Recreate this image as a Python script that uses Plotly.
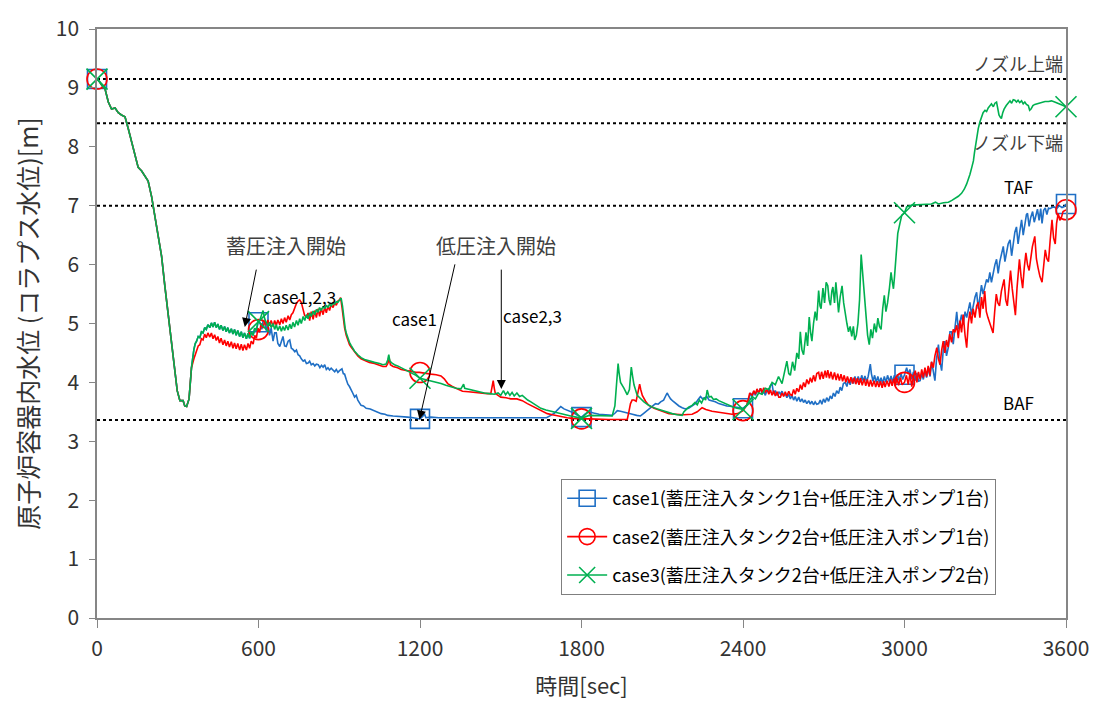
import numpy as np
import plotly.graph_objects as go

# ---------------- data ----------------
# common part (all cases identical)
t_common = [0, 10, 20, 30, 42, 54, 67, 79, 91, 104, 116, 129, 141, 153, 166, 178, 190, 203, 215, 227,
            240, 252, 264, 277, 289, 298, 308, 320, 326, 333, 342, 351]
v_common = [9.15, 9.10, 9.03, 8.98, 8.76, 8.64, 8.66, 8.58, 8.54, 8.51, 8.31, 8.09, 7.84, 7.65, 7.59, 7.51,
            7.42, 7.15, 6.81, 6.48, 6.14, 5.64, 5.20, 4.70, 4.20, 3.86, 3.69, 3.69, 3.60, 3.59, 3.72, 4.25]

# case1 & case3 before accumulator injection (identical)
t_pre13 = [360, 365, 370, 376, 382, 388, 394, 400, 406, 412, 419, 425, 431, 437, 443, 449, 455, 461, 468, 474,
           480, 486, 492, 499, 505, 511, 517, 523, 530, 536, 542, 548, 555, 561, 567, 573, 580, 586, 592, 598]
v_pre13 = [4.56, 4.66, 4.70, 4.78, 4.76, 4.86, 4.84, 4.93, 4.90, 4.98, 4.93, 5.01, 4.94, 5.02, 4.93, 4.99,
           4.90, 4.97, 4.88, 4.95, 4.86, 4.93, 4.84, 4.91, 4.82, 4.90, 4.80, 4.88, 4.78, 4.86, 4.76, 4.84,
           4.74, 4.83, 4.75, 4.86, 4.80, 4.92, 4.88, 5.02]

t_case1 = [605, 612, 617, 623, 629, 635, 641, 647, 654, 660, 666, 672, 679, 685, 691, 697, 703, 710, 716, 722,
           728, 735, 741, 747, 753, 759, 766, 772, 778, 784, 790, 796, 803, 809, 815, 822, 828, 834, 840, 846,
           852, 858, 864, 870, 877, 883, 889, 895, 901, 910, 915, 920, 926, 932, 938, 944, 950, 957, 963, 969,
           975, 981, 990, 1000, 1015, 1031, 1045, 1056, 1070, 1080, 1100, 1117, 1135, 1154, 1175, 1191, 1200,
           1210, 1216, 1222, 1240, 1270, 1300, 1330, 1360, 1400, 1440, 1480, 1520, 1560, 1600, 1640, 1670,
           1686, 1700, 1710, 1723, 1735, 1748, 1760, 1772, 1785, 1800, 1815, 1828, 1845, 1865, 1890, 1914,
           1925, 1933, 1945, 1952, 1970, 1989, 2005, 2019, 2030, 2038, 2047, 2057, 2066, 2075, 2085, 2094,
           2105, 2112, 2118, 2124, 2131, 2140, 2149, 2162, 2174, 2186, 2198, 2210, 2223, 2232, 2242, 2250,
           2258, 2266, 2274, 2285, 2297, 2310, 2322, 2340, 2359, 2380, 2400, 2415, 2428, 2434, 2440, 2446,
           2452, 2458, 2465, 2471, 2477, 2483, 2490, 2496, 2502, 2508, 2514, 2520, 2527, 2533, 2539, 2545,
           2551, 2557, 2563, 2570, 2576, 2582, 2588, 2594, 2600, 2607, 2613, 2619, 2625, 2631, 2637, 2644,
           2650, 2656, 2662, 2668, 2674, 2681, 2687, 2693, 2699, 2705, 2711, 2718, 2724, 2730, 2736, 2742,
           2748, 2755, 2761, 2767, 2773, 2780, 2786, 2792, 2798, 2804, 2810, 2816, 2822, 2828, 2835, 2841,
           2847, 2853, 2859, 2865, 2870, 2873, 2877, 2883, 2889, 2895, 2901, 2907, 2913, 2919, 2925, 2931,
           2937, 2944, 2950, 2956, 2962, 2968, 2974, 2980, 2987, 2993, 3000, 3008, 3014, 3020, 3027, 3033,
           3040, 3046, 3052, 3058, 3064, 3070, 3076, 3082, 3090, 3095, 3101, 3107, 3113, 3119, 3126, 3132,
           3138, 3144, 3150, 3156, 3163, 3169, 3175, 3181, 3187, 3194, 3200, 3206, 3212, 3218, 3225, 3231,
           3237, 3243, 3249, 3255, 3262, 3268, 3274, 3280, 3286, 3292, 3298, 3305, 3311, 3317, 3323, 3329,
           3336, 3342, 3348, 3354, 3360, 3367, 3373, 3379, 3385, 3392, 3398, 3404, 3410, 3416, 3422, 3428,
           3435, 3441, 3447, 3453, 3457, 3463, 3469, 3476, 3482, 3488, 3494, 3500, 3506, 3511, 3517, 3523,
           3529, 3535, 3540, 3548, 3556, 3565, 3575, 3585, 3595, 3600]
v_case1 = [5.02, 4.90, 5.05, 5.03, 4.88, 5.00, 4.80, 4.92, 4.70, 4.84, 4.84, 4.66, 4.61, 4.72, 4.78, 4.62,
           4.61, 4.70, 4.72, 4.58, 4.56, 4.52, 4.55, 4.47, 4.45, 4.40, 4.36, 4.38, 4.32, 4.33, 4.36, 4.30,
           4.32, 4.28, 4.31, 4.30, 4.25, 4.29, 4.26, 4.30, 4.22, 4.25, 4.21, 4.24, 4.20, 4.18, 4.22, 4.17,
           4.20, 4.23, 4.15, 4.14, 4.05, 3.97, 3.93, 3.86, 3.82, 3.75, 3.78, 3.70, 3.66, 3.61, 3.60, 3.56,
           3.55, 3.52, 3.50, 3.47, 3.46, 3.44, 3.43, 3.42, 3.41, 3.41, 3.40, 3.39, 3.38, 3.42, 3.47, 3.40,
           3.41, 3.40, 3.40, 3.39, 3.40, 3.40, 3.39, 3.40, 3.39, 3.40, 3.39, 3.39, 3.40, 3.44, 3.48, 3.53,
           3.59, 3.55, 3.53, 3.51, 3.48, 3.44, 3.41, 3.47, 3.50, 3.48, 3.46, 3.45, 3.44, 3.48, 3.52, 3.51,
           3.50, 3.48, 3.46, 3.44, 3.43, 3.47, 3.50, 3.53, 3.56, 3.60, 3.64, 3.63, 3.67, 3.70, 3.76, 3.82,
           3.77, 3.72, 3.68, 3.64, 3.60, 3.57, 3.55, 3.56, 3.60, 3.64, 3.70, 3.76, 3.72, 3.74, 3.76, 3.70,
           3.69, 3.67, 3.64, 3.62, 3.60, 3.59, 3.57, 3.56, 3.62, 3.82, 3.75, 3.85, 3.78, 3.86, 3.83, 3.90,
           3.80, 3.85, 3.78, 3.88, 3.82, 3.95, 3.97, 3.80, 3.86, 3.78, 3.84, 3.80, 3.85, 3.78, 3.81, 3.74,
           3.80, 3.72, 3.78, 3.70, 3.76, 3.68, 3.75, 3.67, 3.72, 3.66, 3.70, 3.64, 3.69, 3.63, 3.68, 3.62,
           3.67, 3.63, 3.64, 3.70, 3.63, 3.72, 3.66, 3.74, 3.68, 3.77, 3.72, 3.82, 3.76, 3.86, 3.81, 3.92,
           3.86, 3.98, 4.00, 3.93, 4.05, 3.96, 4.08, 3.98, 4.10, 3.99, 4.10, 4.00, 4.12, 4.02, 4.11, 4.01,
           4.10, 4.20, 4.31, 4.15, 4.02, 4.12, 4.00, 4.10, 3.99, 4.08, 3.98, 4.10, 4.00, 4.12, 4.01, 4.11,
           4.00, 4.12, 4.02, 4.14, 4.03, 4.15, 4.05, 4.13, 4.25, 4.14, 4.22, 4.05, 4.18, 4.03, 4.16, 4.02,
           4.03, 4.15, 4.05, 4.22, 4.08, 4.25, 4.10, 4.35, 4.15, 4.03, 4.40, 4.64, 4.35, 4.20, 4.55, 4.70,
           4.45, 4.60, 4.86, 4.86, 4.65, 4.95, 5.20, 4.90, 5.05, 5.15, 4.98, 5.20, 5.10, 5.25, 5.36, 5.15,
           5.30, 5.45, 5.53, 5.25, 5.45, 5.65, 5.50, 5.60, 5.75, 5.70, 5.87, 5.70, 5.85, 6.00, 6.09, 5.85,
           6.05, 6.20, 6.31, 6.05, 6.20, 6.35, 6.42, 6.15, 6.35, 6.55, 6.64, 6.35, 6.55, 6.76, 6.50, 6.70,
           6.85, 6.87, 6.65, 6.80, 6.90, 6.72, 6.85, 6.94, 6.75, 6.95, 6.70, 6.92, 6.96, 6.85, 6.96, 6.95,
           6.97, 6.98, 6.95, 7.00, 6.97, 6.99, 7.03]

t_case2 = [360, 365, 370, 376, 382, 388, 394, 400, 406, 412, 419, 425, 431, 437, 443, 449, 455, 461, 468, 474,
           480, 486, 492, 499, 505, 511, 517, 523, 530, 536, 542, 548, 555, 561, 567, 573, 580, 586, 592, 598,
           604, 610, 617, 623, 629, 635, 641, 647, 654, 660, 666, 672, 679, 685, 691, 697, 703, 710, 716, 722,
           728, 734, 741, 747, 753, 759, 766, 771, 778, 784, 790, 796, 803, 809, 815, 821, 827, 833, 840, 846,
           852, 858, 864, 870, 877, 883, 889, 895, 901, 905, 910, 915, 920, 926, 932, 938, 944, 957, 969, 981,
           994, 1012, 1031, 1050, 1062, 1074, 1080, 1086, 1090, 1100, 1117, 1130, 1148, 1167, 1185, 1198,
           1220, 1241, 1260, 1278, 1290, 1303, 1320, 1340, 1358, 1380, 1400, 1426, 1450, 1463, 1468, 1472,
           1476, 1480, 1490, 1500, 1520, 1537, 1560, 1580, 1599, 1618, 1636, 1655, 1673, 1692, 1710, 1728,
           1747, 1765, 1785, 1800, 1828, 1860, 1900, 1940, 1970, 1976, 1982, 1988, 1995, 2003, 2010, 2016,
           2020, 2026, 2038, 2050, 2070, 2088, 2106, 2125, 2150, 2180, 2211, 2230, 2248, 2262, 2285, 2310,
           2335, 2359, 2380, 2400, 2415, 2425, 2434, 2440, 2446, 2452, 2458, 2465, 2471, 2477, 2483, 2490,
           2496, 2502, 2508, 2514, 2520, 2527, 2533, 2539, 2545, 2551, 2557, 2563, 2570, 2576, 2582, 2588,
           2594, 2600, 2607, 2613, 2619, 2625, 2631, 2637, 2644, 2650, 2656, 2662, 2668, 2674, 2681, 2686,
           2692, 2698, 2705, 2710, 2715, 2721, 2727, 2733, 2740, 2746, 2752, 2758, 2764, 2770, 2776, 2782,
           2788, 2795, 2801, 2807, 2813, 2819, 2825, 2831, 2837, 2843, 2850, 2856, 2862, 2868, 2874, 2880,
           2887, 2893, 2899, 2905, 2911, 2917, 2923, 2928, 2935, 2942, 2948, 2954, 2960, 2966, 2972, 2978,
           2985, 2991, 3000, 3007, 3014, 3020, 3027, 3033, 3040, 3046, 3052, 3058, 3064, 3070, 3076, 3082,
           3088, 3094, 3100, 3107, 3113, 3120, 3126, 3132, 3138, 3144, 3150, 3156, 3162, 3168, 3175, 3181,
           3187, 3194, 3200, 3206, 3212, 3218, 3225, 3231, 3237, 3243, 3249, 3255, 3262, 3268, 3274, 3280,
           3286, 3292, 3298, 3304, 3310, 3317, 3323, 3329, 3335, 3341, 3347, 3353, 3360, 3365, 3370, 3376,
           3382, 3388, 3394, 3400, 3406, 3412, 3418, 3422, 3427, 3433, 3439, 3445, 3451, 3457, 3463, 3469,
           3475, 3484, 3490, 3496, 3503, 3511, 3517, 3523, 3529, 3535, 3541, 3548, 3554, 3560, 3565, 3571,
           3577, 3583, 3589, 3595, 3600]
v_case2 = [4.40, 4.46, 4.54, 4.62, 4.64, 4.74, 4.72, 4.82, 4.76, 4.84, 4.77, 4.84, 4.74, 4.81, 4.71, 4.78,
           4.67, 4.75, 4.64, 4.72, 4.62, 4.70, 4.60, 4.69, 4.58, 4.67, 4.57, 4.66, 4.55, 4.65, 4.54, 4.64,
           4.55, 4.66, 4.58, 4.70, 4.65, 4.80, 4.75, 4.92, 4.85, 5.00, 4.92, 5.05, 4.97, 5.06, 4.96, 5.05,
           4.95, 5.05, 4.97, 5.06, 4.98, 5.08, 5.00, 5.10, 5.02, 5.13, 5.06, 5.15, 5.18, 5.26, 5.34, 5.38,
           5.40, 5.36, 5.25, 5.14, 5.10, 5.18, 5.05, 5.20, 5.07, 5.22, 5.10, 5.25, 5.12, 5.26, 5.15, 5.28,
           5.18, 5.30, 5.22, 5.32, 5.27, 5.35, 5.31, 5.38, 5.40, 5.44, 5.28, 5.05, 4.92, 4.80, 4.70, 4.64,
           4.60, 4.51, 4.45, 4.40, 4.37, 4.34, 4.32, 4.29, 4.27, 4.27, 4.32, 4.40, 4.30, 4.27, 4.25, 4.22,
           4.20, 4.18, 4.17, 4.17, 4.15, 4.14, 4.13, 4.11, 4.06, 3.98, 3.93, 3.89, 3.85, 3.84, 3.83, 3.81,
           3.81, 3.81, 3.95, 4.03, 3.90, 3.81, 3.78, 3.75, 3.74, 3.72, 3.72, 3.69, 3.64, 3.60, 3.56, 3.51,
           3.47, 3.45, 3.43, 3.41, 3.40, 3.39, 3.38, 3.38, 3.38, 3.37, 3.37, 3.37, 3.37, 3.50, 3.64, 3.70,
           3.70, 3.68, 3.85, 3.97, 3.88, 3.78, 3.68, 3.61, 3.56, 3.53, 3.50, 3.47, 3.46, 3.45, 3.46, 3.50,
           3.57, 3.54, 3.51, 3.49, 3.47, 3.46, 3.47, 3.52, 3.62, 3.82, 3.78, 3.86, 3.80, 3.89, 3.82, 3.90,
           3.83, 3.91, 3.84, 3.88, 3.80, 3.87, 3.78, 3.86, 3.77, 3.84, 3.75, 3.75, 3.82, 3.76, 3.84, 3.77,
           3.85, 3.79, 3.78, 3.88, 3.80, 3.90, 3.84, 3.96, 3.88, 4.00, 3.92, 4.05, 3.97, 4.08, 4.00, 4.12,
           4.02, 4.15, 4.17, 4.05, 4.18, 4.06, 4.20, 4.08, 4.21, 4.07, 4.18, 4.05, 4.17, 4.04, 4.15, 4.03,
           4.14, 4.02, 4.12, 4.00, 4.10, 3.99, 4.09, 3.98, 4.08, 3.97, 4.07, 3.96, 4.07, 3.95, 4.06, 3.94,
           4.05, 3.93, 4.04, 3.93, 4.03, 3.92, 4.02, 3.92, 4.02, 3.91, 4.02, 3.92, 4.03, 3.93, 4.05, 3.94,
           4.06, 3.94, 4.07, 3.95, 4.08, 3.96, 4.00, 4.12, 3.96, 4.15, 3.93, 4.10, 4.20, 4.00, 4.18, 4.05,
           4.22, 4.08, 4.25, 4.10, 4.28, 4.12, 4.35, 4.25, 4.45, 4.59, 4.40, 4.30, 4.55, 4.70, 4.50, 4.72,
           4.60, 4.82, 4.68, 4.90, 4.85, 4.97, 4.75, 5.05, 4.85, 5.15, 4.80, 4.59, 5.00, 5.20, 5.00, 5.25,
           5.10, 5.30, 5.36, 5.10, 5.45, 5.25, 5.55, 5.20, 5.10, 5.00, 4.90, 4.84, 5.20, 5.50, 5.35, 5.30,
           5.55, 5.65, 5.75, 5.40, 5.30, 5.60, 5.90, 5.60, 5.40, 5.14, 5.60, 5.85, 6.09, 5.80, 5.60, 5.95,
           6.20, 6.00, 5.90, 6.10, 6.30, 6.48, 6.10, 5.95, 5.80, 5.70, 6.00, 6.25, 6.10, 6.05, 6.40, 6.76,
           6.45, 6.35, 6.70, 6.87, 6.75, 6.80, 6.90, 6.92, 6.93]

t_case3 = [605, 612, 617, 623, 629, 635, 641, 647, 654, 660, 666, 672, 679, 685, 691, 697, 703, 710, 716, 722,
           728, 734, 741, 747, 753, 759, 766, 772, 778, 784, 790, 796, 803, 809, 815, 821, 827, 833, 840, 846,
           852, 858, 864, 870, 877, 883, 889, 895, 901, 907, 912, 917, 922, 926, 932, 938, 944, 957, 969, 981,
           994, 1012, 1031, 1050, 1062, 1074, 1080, 1084, 1088, 1095, 1105, 1117, 1130, 1148, 1167, 1185, 1200,
           1220, 1241, 1260, 1278, 1296, 1315, 1334, 1352, 1358, 1362, 1366, 1383, 1401, 1420, 1439, 1458,
           1476, 1490, 1500, 1510, 1518, 1526, 1534, 1542, 1550, 1560, 1570, 1580, 1587, 1600, 1612, 1630,
           1649, 1668, 1686, 1705, 1723, 1742, 1760, 1780, 1800, 1828, 1865, 1900, 1914, 1924, 1932, 1936,
           1940, 1945, 1958, 1970, 1978, 1985, 1990, 1995, 2007, 2020, 2032, 2047, 2063, 2082, 2100, 2118,
           2137, 2155, 2174, 2180, 2186, 2198, 2211, 2222, 2230, 2238, 2246, 2255, 2261, 2267, 2274, 2282,
           2290, 2300, 2310, 2328, 2347, 2365, 2378, 2400, 2415, 2434, 2446, 2458, 2471, 2483, 2495, 2508,
           2520, 2532, 2545, 2557, 2563, 2570, 2576, 2584, 2592, 2600, 2607, 2613, 2619, 2625, 2634, 2640,
           2646, 2651, 2656, 2662, 2668, 2674, 2681, 2686, 2690, 2697, 2703, 2709, 2715, 2720, 2725, 2730,
           2734, 2740, 2745, 2750, 2755, 2761, 2768, 2774, 2780, 2786, 2792, 2798, 2804, 2810, 2815, 2821,
           2827, 2833, 2839, 2845, 2851, 2857, 2863, 2869, 2875, 2881, 2888, 2895, 2901, 2907, 2913, 2919,
           2925, 2931, 2937, 2944, 2950, 2955, 2959, 2963, 2967, 2971, 2975, 2983, 2990, 3000, 3008, 3027,
           3050, 3076, 3100, 3115, 3126, 3145, 3163, 3176, 3188, 3200, 3212, 3222, 3231, 3238, 3243, 3250,
           3256, 3260, 3264, 3269, 3274, 3280, 3286, 3292, 3299, 3305, 3311, 3317, 3323, 3330, 3336, 3342,
           3347, 3351, 3356, 3360, 3365, 3370, 3378, 3385, 3392, 3398, 3404, 3410, 3416, 3422, 3428, 3435,
           3441, 3447, 3453, 3460, 3465, 3470, 3477, 3484, 3497, 3510, 3522, 3535, 3546, 3558, 3571, 3585,
           3600]
v_case3 = [5.06, 5.18, 5.22, 5.08, 5.02, 4.95, 5.02, 4.93, 5.00, 4.90, 4.98, 4.88, 4.96, 4.87, 4.95, 4.88,
           4.97, 4.89, 4.99, 4.91, 5.02, 4.94, 5.05, 4.97, 5.08, 5.00, 5.12, 5.05, 5.15, 5.08, 5.18, 5.12,
           5.21, 5.15, 5.24, 5.19, 5.27, 5.22, 5.29, 5.25, 5.31, 5.27, 5.33, 5.30, 5.35, 5.33, 5.37, 5.36,
           5.40, 5.43, 5.30, 5.09, 4.92, 4.84, 4.74, 4.68, 4.63, 4.53, 4.47, 4.42, 4.39, 4.36, 4.34, 4.32,
           4.30, 4.31, 4.38, 4.47, 4.36, 4.33, 4.30, 4.28, 4.25, 4.21, 4.17, 4.12, 4.07, 4.05, 4.02, 4.00,
           3.98, 3.95, 3.92, 3.90, 3.89, 3.93, 3.97, 3.90, 3.88, 3.86, 3.84, 3.82, 3.81, 3.80, 3.82, 3.78,
           3.86, 3.79, 3.84, 3.78, 3.83, 3.77, 3.82, 3.76, 3.78, 3.75, 3.70, 3.67, 3.61, 3.56, 3.53, 3.51,
           3.48, 3.46, 3.44, 3.43, 3.41, 3.39, 3.44, 3.44, 3.43, 3.43, 3.60, 4.15, 4.32, 4.15, 4.00, 3.90,
           3.79, 3.88, 4.26, 4.10, 3.96, 3.78, 3.72, 3.67, 3.62, 3.58, 3.55, 3.52, 3.49, 3.47, 3.45, 3.44,
           3.50, 3.53, 3.58, 3.61, 3.66, 3.62, 3.70, 3.65, 3.74, 3.70, 3.87, 3.75, 3.76, 3.71, 3.72, 3.69,
           3.65, 3.62, 3.58, 3.56, 3.54, 3.62, 3.76, 3.72, 3.82, 3.80, 3.90, 3.88, 4.00, 3.96, 4.10, 3.98,
           4.20, 4.36, 4.15, 4.12, 4.35, 4.20, 4.50, 4.40, 4.86, 4.55, 4.47, 4.85, 4.62, 5.11, 4.85, 4.70,
           5.00, 5.20, 5.05, 5.56, 5.30, 5.25, 5.60, 5.35, 5.70, 5.64, 5.40, 5.31, 5.55, 5.62, 5.35, 5.70,
           5.45, 5.19, 5.45, 5.64, 5.35, 5.14, 5.00, 4.86, 4.95, 4.78, 4.95, 4.72, 4.80, 5.00, 5.40, 6.17,
           5.80, 5.48, 5.05, 4.80, 4.64, 4.90, 4.75, 5.00, 4.85, 5.09, 4.95, 4.90, 5.25, 5.48, 5.20, 5.35,
           5.60, 5.87, 5.70, 5.59, 5.80, 6.03, 6.30, 6.53, 6.70, 6.84, 6.88, 6.98, 7.01, 7.02, 7.03, 7.03,
           7.06, 7.03, 7.05, 7.06, 7.09, 7.12, 7.16, 7.21, 7.28, 7.37, 7.45, 7.53, 7.65, 7.76, 7.90, 8.04,
           8.18, 8.31, 8.42, 8.51, 8.58, 8.62, 8.60, 8.66, 8.70, 8.73, 8.68, 8.74, 8.76, 8.62, 8.54, 8.50,
           8.48, 8.58, 8.64, 8.70, 8.74, 8.78, 8.74, 8.80, 8.79, 8.76, 8.79, 8.75, 8.78, 8.73, 8.76, 8.72,
           8.70, 8.62, 8.64, 8.70, 8.72, 8.74, 8.76, 8.77, 8.77, 8.78, 8.76, 8.74, 8.71, 8.68]

marker_times = [0, 600, 1200, 1800, 2400, 3000, 3600]
x_ticks = [0, 600, 1200, 1800, 2400, 3000, 3600]
level_values = [9.15, 8.40, 7.00, 3.36]

names = ["case1(蓄圧注入タンク1台+低圧注入ポンプ1台)",
         "case2(蓄圧注入タンク2台+低圧注入ポンプ1台)",
         "case3(蓄圧注入タンク2台+低圧注入ポンプ2台)"]

# ---------------- build ----------------
t1 = t_common + t_pre13 + t_case1
v1 = v_common + v_pre13 + v_case1
t2 = t_common + t_case2
v2 = v_common + v_case2
t3 = t_common + t_pre13 + t_case3
v3 = v_common + v_pre13 + v_case3

series = [
    (t1, v1, "#1F6FC5", "square-open", 19),
    (t2, v2, "#FF0000", "circle-open", 20),
    (t3, v3, "#00B050", "x-thin-open", 21),
]

FONT = "Noto Sans CJK JP, Noto Sans, sans-serif"
fig = go.Figure()

for i, (t, v, col, sym, sz) in enumerate(series):
    fig.add_trace(go.Scatter(x=t, y=v, mode="lines", line=dict(color=col, width=1.6),
                             showlegend=False, hoverinfo="skip"))
    mv = np.interp(marker_times, t, v)
    fig.add_trace(go.Scatter(x=marker_times, y=mv, mode="markers",
                             marker=dict(symbol=sym, size=sz, color=col,
                                         line=dict(color=col, width=1.6)),
                             showlegend=False, hoverinfo="skip", cliponaxis=False))
    fig.add_trace(go.Scatter(x=[None], y=[None], mode="lines+markers", name=names[i],
                             legendgroup=f"g{i}",
                             line=dict(color=col, width=1.6),
                             marker=dict(symbol=sym, size=sz - 2, color=col,
                                         line=dict(color=col, width=1.6))))

shapes = []
for lv in level_values:
    shapes.append(dict(type="line", xref="x", yref="y", x0=0, x1=3600, y0=lv, y1=lv,
                       line=dict(color="black", width=2, dash="dot"), layer="below"))

ann_gray = dict(family=FONT, size=20, color="#404040")
ann_gray_s = dict(family=FONT, size=18, color="#404040")
ann_black = dict(family=FONT, size=17, color="black")
arrow_kw = dict(xref="x", yref="y", axref="x", ayref="y", text="", showarrow=True,
                arrowhead=2, arrowsize=1.8, arrowwidth=1, arrowcolor="black")
annotations = [
    dict(x=3595, y=9.15, xref="x", yref="y", text="ノズル上端", showarrow=False,
         xanchor="right", yanchor="bottom", yshift=1, font=ann_gray_s),
    dict(x=3595, y=8.40, xref="x", yref="y", text="ノズル下端", showarrow=False,
         xanchor="right", yanchor="top", yshift=-4, font=ann_gray_s),
    dict(x=3422, y=7.00, xref="x", yref="y", text="TAF", showarrow=False,
         yanchor="bottom", yshift=5, font=ann_black),
    dict(x=3422, y=3.36, xref="x", yref="y", text="BAF", showarrow=False,
         yanchor="bottom", yshift=3, font=ann_black),
    dict(x=704, y=6.33, xref="x", yref="y", text="蓄圧注入開始", showarrow=False, font=ann_gray),
    dict(x=753, y=5.46, xref="x", yref="y", text="case1,2,3", showarrow=False, font=ann_black),
    dict(x=1483, y=6.33, xref="x", yref="y", text="低圧注入開始", showarrow=False, font=ann_gray),
    dict(x=1179, y=5.09, xref="x", yref="y", text="case1", showarrow=False, font=ann_black),
    dict(x=1617, y=5.14, xref="x", yref="y", text="case2,3", showarrow=False, font=ann_black),
    dict(x=549, y=4.94, ax=593, ay=5.94, **arrow_kw),
    dict(x=1198, y=3.37, ax=1331, ay=6.03, **arrow_kw),
    dict(x=1502, y=3.89, ax=1502, ay=5.94, **arrow_kw),
]

fig.update_layout(
    width=1101, height=713,
    margin=dict(l=97, r=33, t=19, b=95),
    paper_bgcolor="white", plot_bgcolor="white",
    font=dict(family=FONT, color="#333333"),
    shapes=shapes, annotations=annotations,
    legend=dict(x=0.479, y=0.236, xanchor="left", yanchor="top",
                bordercolor="#7f7f7f", borderwidth=1, bgcolor="white",
                font=dict(family=FONT, size=18, color="black"),
                tracegroupgap=12, traceorder="grouped", itemwidth=40),
    showlegend=True,
)
fig.update_xaxes(range=[0, 3600], tickvals=x_ticks, ticks="outside", ticklen=8, tickcolor="#868686",
                 showline=True, linecolor="#868686", linewidth=1.5, mirror=True, showgrid=False,
                 zeroline=False, tickfont=dict(family=FONT, size=21, color="#333333"),
                 ticklabelstandoff=3,
                 title=dict(text="時間[sec]", font=dict(family=FONT, size=22, color="#333333"), standoff=18))
fig.update_yaxes(range=[0, 10], dtick=1, ticks="outside", ticklen=6, tickcolor="#868686",
                 showline=True, linecolor="#868686", linewidth=1.5, mirror=True, showgrid=False,
                 zeroline=False, tickfont=dict(family=FONT, size=21, color="#333333"),
                 ticklabelstandoff=6,
                 title=dict(text="原子炉容器内水位 (コラプス水位)[m]",
                            font=dict(family=FONT, size=25, color="#333333"), standoff=10))

fig.write_html("out.html")
